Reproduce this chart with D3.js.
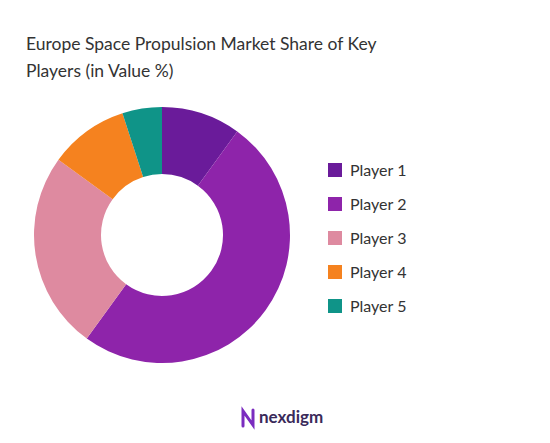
<!DOCTYPE html>
<html><head><meta charset="utf-8">
<script src="https://cdn.jsdelivr.net/npm/d3@7"></script>
<style>body{margin:0;background:#fff;font-family:Lato,"Open Sans",sans-serif}</style>
</head><body>
<svg id="c" width="550" height="443"></svg>
<script>
// Chart data.
const players = ['Player 1', 'Player 2', 'Player 3', 'Player 4', 'Player 5'];
const shares = [10, 50, 25, 10, 5];
const colors = ['#6a1b9a', '#8e24aa', '#de8aa0', '#f5821f', '#0f9488'];

const svg = d3.select('#c');

// Title.
svg.append('text')
  .attr('x', 26).attr('y', 50)
  .style('font-size', '17.5px').style('fill', '#333')
  .selectAll('tspan')
  .data(['Europe Space Propulsion Market Share of Key', 'Players (in Value %)'])
  .join('tspan')
  .attr('x', 26).attr('dy', (d, i) => i ? 27 : 0)
  .text(d => d);

// Donut.
const pie = d3.pie().sort(null)(shares);
const arc = d3.arc().innerRadius(61).outerRadius(128);
svg.append('g')
  .attr('transform', 'translate(162,235)')
  .selectAll('path')
  .data(pie)
  .join('path')
  .attr('d', arc)
  .attr('fill', (d, i) => colors[i]);

// Legend.
const y = d3.scaleBand().domain(players).range([153, 323]);
const lg = svg.append('g').selectAll('g').data(players).join('g')
  .attr('transform', d => `translate(328,${y(d) + y.bandwidth() / 2})`);
lg.append('rect').attr('x', 0).attr('y', -7).attr('width', 14).attr('height', 14)
  .attr('fill', (d, i) => colors[i]);
lg.append('text').attr('x', 22).attr('dy', '0.35em')
  .style('font-size', '16px').style('fill', '#333').text(d => d);

// Logo.
const logo = svg.append('g').attr('transform', 'translate(243,418)');
logo.append('path').attr('d', 'M0,8 L0,-7 L10,7 L10,-8')
  .attr('fill', 'none').attr('stroke', '#7b2cbf').attr('stroke-width', 3)
  .attr('stroke-linecap', 'round');
logo.append('text').attr('x', 16).attr('y', 5)
  .style('font-size', '17px').style('font-weight', 'bold').style('fill', '#3a2a5a')
  .text('nexdigm');
</script>
</body></html>
